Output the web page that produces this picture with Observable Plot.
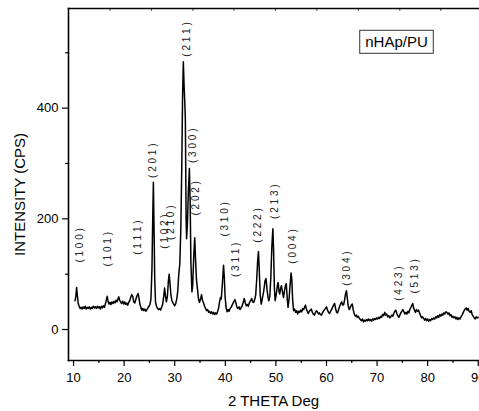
<!DOCTYPE html>
<html>
<head>
<meta charset="utf-8">
<script src="https://cdn.jsdelivr.net/npm/d3@7"></script>
<script src="https://cdn.jsdelivr.net/npm/@observablehq/plot@0.6"></script>
<style>
  html, body { margin: 0; padding: 0; background: #fff; }
  #chart { position: relative; }
</style>
</head>
<body>
<div id="chart"></div>
<script>
// 2-theta (deg) and intensity (CPS)
const twoTheta = [
  10.3,10.45,10.6,10.75,10.9,11.1,11.3,11.5,11.7,11.9,12.1,12.3,12.5,12.7,12.9,13.1,13.3,13.5,13.7,13.9,
  14.1,14.3,14.5,14.7,14.9,15.1,15.3,15.5,15.7,15.9,16.1,16.3,16.5,16.65,16.8,17.0,17.2,17.4,17.6,17.8,
  18.0,18.2,18.4,18.6,18.8,18.95,19.1,19.3,19.5,19.7,19.9,20.1,20.3,20.5,20.7,20.9,21.1,21.3,21.5,21.7,
  21.9,22.1,22.3,22.5,22.75,22.95,23.1,23.3,23.5,23.7,23.9,24.1,24.3,24.5,24.7,24.9,25.1,25.3,25.5,25.65,
  25.78,25.9,26.05,26.2,26.4,26.6,26.8,27.0,27.2,27.4,27.6,27.8,28.0,28.15,28.35,28.55,28.75,28.9,29.05,29.25,
  29.45,29.65,29.85,30.0,30.2,30.4,30.6,30.8,31.0,31.2,31.4,31.55,31.7,31.85,32.0,32.1,32.25,32.35,32.5,32.7,
  32.9,33.05,33.2,33.4,33.55,33.75,33.95,34.1,34.3,34.5,34.7,34.9,35.1,35.3,35.5,35.7,35.9,36.1,36.3,36.5,
  36.7,36.9,37.1,37.3,37.5,37.7,37.9,38.1,38.3,38.5,38.7,38.9,39.05,39.2,39.4,39.65,39.8,39.95,40.15,40.35,
  40.55,40.75,40.95,41.15,41.4,41.65,41.9,42.1,42.3,42.5,42.7,42.9,43.1,43.3,43.5,43.75,43.95,44.15,44.35,44.55,
  44.75,45.0,45.2,45.4,45.6,45.8,46.0,46.2,46.4,46.55,46.7,46.9,47.1,47.3,47.6,47.85,48.05,48.25,48.45,48.6,
  48.8,49.0,49.2,49.4,49.55,49.7,49.85,50.05,50.3,50.45,50.6,50.75,50.95,51.1,51.3,51.5,51.7,51.9,52.05,52.25,
  52.4,52.6,52.8,53.0,53.15,53.3,53.5,53.7,53.9,54.1,54.3,54.5,54.7,54.9,55.1,55.3,55.5,55.7,55.85,56.0,
  56.2,56.4,56.6,56.8,57.0,57.2,57.4,57.6,57.8,58.0,58.2,58.4,58.6,58.8,59.0,59.2,59.4,59.6,59.8,60.0,
  60.2,60.4,60.6,60.8,61.0,61.2,61.4,61.6,61.8,62.0,62.2,62.4,62.6,62.8,63.0,63.2,63.4,63.6,63.8,63.95,
  64.1,64.3,64.5,64.7,64.9,65.1,65.3,65.5,65.7,65.9,66.1,66.3,66.5,66.7,66.9,67.1,67.3,67.5,67.7,67.9,
  68.1,68.3,68.5,68.7,68.9,69.1,69.3,69.5,69.7,69.9,70.1,70.3,70.5,70.7,70.9,71.1,71.3,71.5,71.7,71.9,
  72.1,72.3,72.5,72.7,72.9,73.1,73.3,73.5,73.7,73.9,74.1,74.3,74.5,74.7,74.9,75.1,75.3,75.5,75.7,75.9,
  76.1,76.3,76.5,76.7,76.9,77.05,77.2,77.4,77.6,77.8,78.0,78.2,78.4,78.6,78.8,79.0,79.2,79.4,79.6,79.8,
  80.0,80.2,80.4,80.6,80.8,81.0,81.2,81.4,81.6,81.8,82.0,82.2,82.4,82.6,82.8,83.0,83.2,83.4,83.6,83.8,
  84.0,84.2,84.4,84.6,84.8,85.0,85.2,85.4,85.6,85.8,86.0,86.2,86.4,86.6,86.8,87.0,87.2,87.4,87.6,87.8,
  88.0,88.2,88.4,88.6,88.8,89.0,89.2,89.4,89.6,89.8,90.0
];
const intensity = [
  52,60,76,62,48,42,38,40,37,41,38,42,37,40,38,41,37,40,38,42,
  39,41,38,42,39,41,37,42,39,43,40,46,54,60,52,46,49,45,50,47,
  51,48,53,50,56,59,53,50,47,51,46,50,45,48,44,49,52,58,63,60,
  50,48,54,60,65,56,46,40,35,38,34,37,33,36,39,42,45,55,110,200,
  266,190,90,50,42,38,36,38,35,40,45,58,75,62,50,60,88,100,85,62,
  52,48,45,43,47,55,70,100,118,180,300,420,484,440,408,380,200,164,190,250,
  291,230,120,68,80,130,166,130,90,73,55,49,55,63,52,48,42,38,34,36,
  31,33,29,32,28,31,27,30,28,33,40,52,58,55,80,116,95,60,40,32,
  36,33,38,40,45,50,54,48,40,38,41,36,39,42,48,56,48,43,45,42,
  48,52,56,50,49,54,62,90,125,141,110,62,46,55,70,88,92,72,58,52,
  60,95,150,182,140,75,52,62,80,85,70,64,75,79,68,58,70,80,83,55,
  40,55,80,102,90,55,34,37,31,34,28,33,31,35,32,38,36,41,44,38,
  33,29,33,35,37,31,28,26,30,34,32,28,30,27,26,30,33,36,38,41,
  35,31,29,33,36,40,44,47,38,31,30,36,42,46,50,44,45,55,66,70,
  58,42,36,40,44,46,35,28,24,26,22,24,20,18,16,19,14,17,15,18,
  16,19,16,18,15,19,17,20,18,21,19,22,20,24,22,27,25,31,26,28,
  23,25,21,23,26,24,29,33,35,29,25,22,26,30,33,36,32,28,31,28,
  33,30,37,40,44,47,40,35,31,36,33,35,30,25,21,23,20,17,20,16,
  19,15,18,16,20,18,21,19,23,21,25,22,27,24,28,26,30,28,32,31,
  28,30,25,27,22,24,21,23,19,22,18,21,19,23,26,30,34,37,39,35,
  38,33,31,34,27,24,21,19,23,21,22
];

// Miller-index annotations: label, 2-theta and intensity of the label centre
const hklLabels = ["( 1 0 0 )","( 1 0 1 )","( 1 1 1 )","( 2 0 1 )","( 1 0 2 )","( 2 1 0 )","( 2 1 1 )","( 3 0 0 )","( 2 0 2 )","( 3 1 0 )","( 3 1 1 )","( 2 2 2 )","( 2 1 3 )","( 0 0 4 )","( 3 0 4 )","( 4 2 3 )","( 5 1 3 )"];
const hklTheta  = [11.2, 16.8, 22.7, 25.75, 28.0, 29.3, 32.3, 33.6, 34.1, 39.85, 42.15, 46.5, 49.8, 53.35, 64.1, 74.3, 77.45];
const hklInt    = [152, 145, 166, 305, 177, 193, 524, 332, 237, 199, 126, 188, 231, 150, 110, 83, 96];

const xMajor = [10, 20, 30, 40, 50, 60, 70, 80, 90];
const xMinor = [15, 25, 35, 45, 55, 65, 75, 85];
const yMajor = [0, 200, 400];
const yMinor = [100, 300, 500];
const topTicks = [17.2, 25.4, 33.6, 41.7, 49.9, 58.1, 66.3, 74.5, 82.6];

const xTitle = "2 THETA Deg";
const yTitle = "INTENSITY (CPS)";
const legendText = "nHAp/PU";

const trace = twoTheta.map((t, i) => ({t, v: intensity[i]}));
const hkl = hklLabels.map((l, i) => ({l, t: hklTheta[i], v: hklInt[i]}));

const font = "'Liberation Sans', Arial, Helvetica, sans-serif";

const chart = Plot.plot({
  width: 479,
  height: 411,
  marginLeft: 68,
  marginRight: 1,
  marginTop: 8,
  marginBottom: 51,
  style: {fontFamily: font, fontSize: "13px", color: "#000", background: "#fff", overflow: "visible"},
  x: {domain: [9, 90.05]},
  y: {domain: [-56, 580]},
  marks: [
    Plot.axisY({ticks: yMajor, tickSize: 6, tickPadding: 4, label: null, stroke: "#000", strokeWidth: 1.2}),
    Plot.axisY({ticks: yMinor, tickSize: 3, tickFormat: () => "", label: null, stroke: "#000", strokeWidth: 1.2}),
    Plot.axisX({ticks: xMajor, tickSize: 6, tickPadding: 6, label: null, stroke: "#000", strokeWidth: 1.2}),
    Plot.axisX({ticks: xMinor, tickSize: 3, tickFormat: () => "", label: null, stroke: "#000", strokeWidth: 1.2}),
    Plot.axisX({anchor: "top", ticks: topTicks, tickSize: -2, tickFormat: () => "", label: null, stroke: "#555", strokeWidth: 1}),
    Plot.frame({anchor: "left", stroke: "#000", strokeWidth: 1.6}),
    Plot.frame({anchor: "bottom", stroke: "#000", strokeWidth: 1.6}),
    Plot.frame({anchor: "top", stroke: "#000", strokeWidth: 1.6}),
    Plot.line(trace, {x: "t", y: "v", stroke: "#000", strokeWidth: 1.5, strokeLinejoin: "round"}),
    Plot.text(hkl, {x: "t", y: "v", text: "l", rotate: -90, fontSize: 10, fill: "#222"}),
    Plot.text([yTitle], {frameAnchor: "left", textAnchor: "middle", lineAnchor: "middle", rotate: -90, dx: -48, dy: 10, fontSize: 15}),
    Plot.text([xTitle], {frameAnchor: "bottom", textAnchor: "middle", lineAnchor: "middle", dy: 41, fontSize: 15}),
    Plot.text([legendText], {frameAnchor: "top-right", textAnchor: "middle", lineAnchor: "middle", dx: -82, dy: 34, fontSize: 15, className: "legend-label"})
  ]
});

document.getElementById("chart").appendChild(chart);

// box around the legend label
const lt = chart.querySelector(".legend-label text");
if (lt) {
  const b = lt.getBoundingClientRect();
  const s = chart.getBoundingClientRect();
  const padX = 5.5, padY = 3;
  d3.select(chart).append("rect")
    .attr("x", b.left - s.left - padX)
    .attr("y", b.top - s.top - padY)
    .attr("width", b.width + 2 * padX)
    .attr("height", b.height + 2 * padY)
    .attr("fill", "none")
    .attr("stroke", "#333")
    .attr("stroke-width", 1);
}
</script>
</body>
</html>
